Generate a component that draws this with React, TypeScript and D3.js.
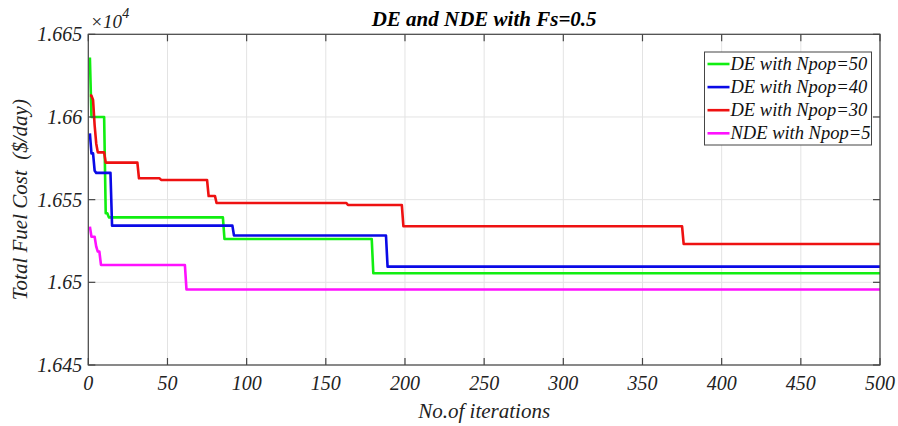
import React, { useEffect, useRef } from "react";
import * as d3 from "d3";

const W = 898;
const H = 426;

const xTicks = [0, 50, 100, 150, 200, 250, 300, 350, 400, 450, 500];
const yTicks = [1.645, 1.65, 1.655, 1.66, 1.665];
const yTickLabels = ["1.645", "1.65", "1.655", "1.66", "1.665"];

// step change points: iteration where the new value is reached, and the value (x1e4 $/day)
const de50Iter = [1, 2, 11, 13, 86, 180];
const de50Val = [1.6636, 1.66, 1.65418, 1.65393, 1.65262, 1.65055];

const de40Iter = [1, 2, 4, 5, 15, 92, 189];
const de40Val = [1.65901, 1.6578, 1.65675, 1.65662, 1.65343, 1.65283, 1.65095];

const de30Iter = [1, 3, 4, 5, 6, 11, 32, 46, 76, 81, 164, 199, 376];
const de30Val = [1.66129, 1.66103, 1.6595, 1.6584, 1.65786, 1.65724, 1.65629, 1.65619, 1.65522, 1.6548, 1.65468, 1.65339, 1.65232];

const nde5Iter = [1, 2, 5, 6, 8, 62];
const nde5Val = [1.65337, 1.65276, 1.65216, 1.65186, 1.65105, 1.64957];

const seriesNames = ["DE with Npop=50", "DE with Npop=40", "DE with Npop=30", "NDE with Npop=5"];
const seriesColors = ["#11ee11", "#0a0ae6", "#ee1111", "#ff11ff"];
const maxIter = 500;

function buildPoints(iters: number[], vals: number[]): [number, number][] {
  const pts: [number, number][] = [[iters[0], vals[0]]];
  for (let k = 1; k < iters.length; k++) {
    pts.push([iters[k] - 1, vals[k - 1]]);
    pts.push([iters[k], vals[k]]);
  }
  pts.push([maxIter, vals[vals.length - 1]]);
  return pts;
}

export default function App() {
  const ref = useRef<SVGSVGElement | null>(null);

  useEffect(() => {
    const svg = d3.select(ref.current);
    svg.selectAll("*").remove();
    const left = 88.3, right = 880, top = 34.3, bottom = 365;
    const x = d3.scaleLinear().domain([0, 500]).range([left, right]);
    const y = d3.scaleLinear().domain([1.645, 1.665]).range([bottom, top]);
    const line = d3
      .line<[number, number]>()
      .x((d) => x(d[0]))
      .y((d) => y(d[1]));
    const axisColor = "#454545";
    const gridColor = "#e3e3e3";
    const tickLen = 7;
    const FF = "Liberation Serif";

    svg.append("style").text('text { font-family: "Liberation Serif", "Times New Roman", serif; font-style: italic; }');
    svg.append("rect").attr("width", W).attr("height", H).attr("fill", "#fff");

    const g = svg.append("g");
    xTicks.forEach((t) =>
      g.append("line").attr("x1", x(t)).attr("x2", x(t)).attr("y1", top).attr("y2", bottom).attr("stroke", gridColor)
    );
    yTicks.forEach((t) =>
      g.append("line").attr("x1", left).attr("x2", right).attr("y1", y(t)).attr("y2", y(t)).attr("stroke", gridColor)
    );

    const data = [
      buildPoints(de50Iter, de50Val),
      buildPoints(de40Iter, de40Val),
      buildPoints(de30Iter, de30Val),
      buildPoints(nde5Iter, nde5Val),
    ];
    data.forEach((pts, i) =>
      svg
        .append("path")
        .attr("d", line(pts) || "")
        .attr("fill", "none")
        .attr("stroke", seriesColors[i])
        .attr("stroke-width", 2.6)
        .attr("stroke-linejoin", "round")
    );

    svg
      .append("rect")
      .attr("x", left)
      .attr("y", top)
      .attr("width", right - left)
      .attr("height", bottom - top)
      .attr("fill", "none")
      .attr("stroke", axisColor)
      .attr("stroke-width", 1.2);

    const txt = (xx: number, yy: number, s: string, size: number, anchor: string) =>
      svg
        .append("text")
        .attr("x", xx)
        .attr("y", yy)
        .attr("font-family", FF)
        .attr("font-style", "italic")
        .attr("font-size", size)
        .attr("text-anchor", anchor)
        .attr("fill", "#222")
        .text(s);

    xTicks.forEach((t) => {
      svg.append("line").attr("x1", x(t)).attr("x2", x(t)).attr("y1", bottom).attr("y2", bottom - tickLen).attr("stroke", axisColor).attr("stroke-width", 1.2);
      svg.append("line").attr("x1", x(t)).attr("x2", x(t)).attr("y1", top).attr("y2", top + tickLen).attr("stroke", axisColor).attr("stroke-width", 1.2);
      txt(x(t), bottom + 25, String(t), 20, "middle");
    });
    yTicks.forEach((t, i) => {
      svg.append("line").attr("x1", left).attr("x2", left + tickLen).attr("y1", y(t)).attr("y2", y(t)).attr("stroke", axisColor).attr("stroke-width", 1.2);
      svg.append("line").attr("x1", right).attr("x2", right - tickLen).attr("y1", y(t)).attr("y2", y(t)).attr("stroke", axisColor).attr("stroke-width", 1.2);
      txt(left - 6, y(t) + 7, yTickLabels[i], 20, "end");
    });

    const ex = txt(left + 2, 28, "×10", 19, "start");
    ex.append("tspan").attr("dy", -10).attr("font-size", 14).text("4");

    txt((left + right) / 2, 26, "DE and NDE with Fs=0.5", 21, "middle").attr("font-weight", "bold").attr("fill", "#000");
    txt((left + right) / 2, 418, "No.of iterations", 21, "middle");
    txt(0, 0, "Total Fuel Cost  ($/day)", 21, "middle")
      .attr("transform", `translate(27, ${(top + bottom) / 2}) rotate(-90)`)
      .attr("xml:space", "preserve")
      .style("white-space", "pre");

    const lg = { x0: 704.5, y0: 52, w: 167, h: 93, row0: 64, dy: 23.1 };
    svg
      .append("rect")
      .attr("x", lg.x0)
      .attr("y", lg.y0)
      .attr("width", lg.w)
      .attr("height", lg.h)
      .attr("fill", "#fff")
      .attr("stroke", axisColor)
      .attr("stroke-width", 1);
    seriesNames.forEach((n, i) => {
      const yy = lg.row0 + i * lg.dy;
      svg.append("line").attr("x1", lg.x0 + 3).attr("x2", lg.x0 + 25).attr("y1", yy).attr("y2", yy).attr("stroke", seriesColors[i]).attr("stroke-width", 2.6);
      txt(lg.x0 + 26, yy + 6, n, 18.5, "start").attr("fill", "#111");
    });
  }, []);

  return <svg ref={ref} width={W} height={H} style={{ position: "absolute", left: 0, top: 0, background: "#fff" }} />;
}
